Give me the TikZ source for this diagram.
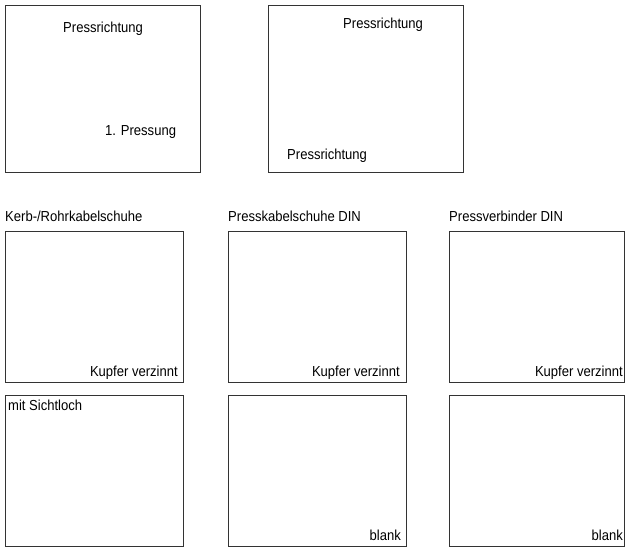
\documentclass[tikz,border=0pt]{standalone}
\usepackage{fontspec}
\setmainfont{Liberation Sans}[FakeStretch=0.9]
\usetikzlibrary{positioning}
\tikzset{panel/.style={draw=black!80, line width=0.8pt, inner sep=0pt, anchor=north west},
 caption/.style={inner sep=0pt, font=\fontsize{14.5}{16}\selectfont},
 }

\begin{document}
\begin{tikzpicture}[x=1pt,y=-1pt]
        \useasboundingbox (0,0) rectangle (625,548);
        % pressing direction
        \node[panel, minimum width=195pt, minimum height=167pt] (first) at (5,5) {};
        \node[panel, minimum width=195pt, minimum height=167pt] (second) at (268,5) {};
        \node[caption, anchor=base west] (firstdir) at (63,33) {Pressrichtung};
        \node[caption, anchor=base west] (firstpress) at (105,136) {1. Pressung};
        \node[caption, anchor=base west] (seconddir) at (343,29) {Pressrichtung};
        \node[caption, anchor=base west] (secondback) at (287,160) {Pressrichtung};
        % product groups
        \foreach \x/\w/\name [count=\i] in {5/178/{Kerb-/Rohrkabelschuhe}, 228/178/{Presskabelschuhe DIN}, 449/175/{Pressverbinder DIN}} {
            \node[panel, minimum width=\w pt, minimum height=151pt] (upper\i) at (\x,231) {};
            \node[panel, minimum width=\w pt, minimum height=151pt] (lower\i) at (\x,395) {};
            \node[caption, anchor=base west] (title\i) at (\x,222) {\name};
        }
        \node[caption, anchor=base east] (tin1) at (178,377) {Kupfer verzinnt};
        \node[caption, anchor=base east] (tin2) at (400,377) {Kupfer verzinnt};
        \node[caption, anchor=base east] (tin3) at (623,377) {Kupfer verzinnt};
        \node[caption, anchor=base west] (hole) at (8,411) {mit Sichtloch};
        \node[caption, anchor=base east] (bare2) at (401,541) {blank};
        \node[caption, anchor=base east] (bare3) at (623,541) {blank};
    \end{tikzpicture}
\end{document}
